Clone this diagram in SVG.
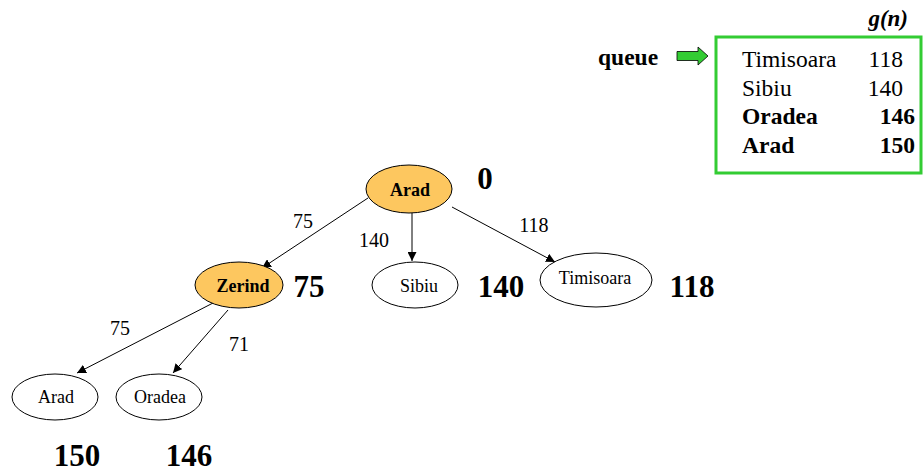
<svg xmlns="http://www.w3.org/2000/svg" width="924" height="472" viewBox="0 0 924 472" font-family="'Liberation Serif', 'DejaVu Serif', serif">
  <style>
    text { font-family: "Liberation Serif", "DejaVu Serif", serif; fill: #000; }
    .node { stroke: #000; stroke-width: 1; }
    .open { fill: #fff; }
    .expanded { fill: #FDC75F; }
    .name { font-size: 18px; text-anchor: middle; }
    .name-b { font-size: 18px; font-weight: bold; text-anchor: middle; }
    .cost { font-size: 20px; text-anchor: middle; }
    .g { font-size: 31px; font-weight: bold; text-anchor: middle; }
    .edge { stroke: #000; stroke-width: 1; fill: none; marker-end: url(#arrow); }
    .q { font-size: 23.5px; }
    .qb { font-size: 23.5px; font-weight: bold; }
  </style>
  <defs>
    <marker id="arrow" viewBox="0 0 10 10" refX="10" refY="5" markerWidth="9" markerHeight="9" markerUnits="userSpaceOnUse" orient="auto">
      <path d="M0,0 L10,5 L0,10 z" fill="#000"/>
    </marker>
  </defs>

  <!-- connectors -->
  <g id="connectors">
    <line class="edge" x1="368" y1="198" x2="262" y2="268"/>
    <line class="edge" x1="412" y1="213" x2="412" y2="261"/>
    <line class="edge" x1="452" y1="207" x2="555" y2="262"/>
    <line class="edge" x1="213" y1="303" x2="77" y2="373"/>
    <line class="edge" x1="228" y1="310" x2="173" y2="373"/>
    <text class="cost" x="303" y="228">75</text>
    <text class="cost" x="374" y="247">140</text>
    <text class="cost" x="534" y="232">118</text>
    <text class="cost" x="120" y="335">75</text>
    <text class="cost" x="239" y="351">71</text>
  </g>

  <!-- search tree nodes -->
  <g id="n-arad">
    <ellipse class="node expanded" cx="409" cy="189" rx="43" ry="24"/>
    <text class="name-b" x="410" y="196">Arad</text>
    <text class="g" x="485" y="189">0</text>
  </g>
  <g id="n-zerind">
    <ellipse class="node expanded" cx="239" cy="285" rx="44" ry="23"/>
    <text class="name-b" x="243" y="292">Zerind</text>
    <text class="g" x="309" y="297">75</text>
  </g>
  <g id="n-sibiu">
    <ellipse class="node open" cx="415" cy="285" rx="43" ry="23"/>
    <text class="name" x="419" y="292">Sibiu</text>
    <text class="g" x="501" y="297">140</text>
  </g>
  <g id="n-timisoara">
    <ellipse class="node open" cx="596" cy="280" rx="56" ry="27"/>
    <text class="name" x="595" y="284">Timisoara</text>
    <text class="g" x="692" y="297">118</text>
  </g>
  <g id="n-arad2">
    <ellipse class="node open" cx="55" cy="397" rx="43" ry="23"/>
    <text class="name" x="56" y="403">Arad</text>
    <text class="g" x="77" y="466">150</text>
  </g>
  <g id="n-oradea">
    <ellipse class="node open" cx="159" cy="397" rx="43" ry="23"/>
    <text class="name" x="160" y="403">Oradea</text>
    <text class="g" x="189" y="466">146</text>
  </g>

  <!-- priority queue -->
  <g id="queue">
    <text class="qb" x="598" y="65">queue</text>
    <path d="M677,51.5 L698,51.5 L698,47 L708,56 L698,65 L698,60.5 L677,60.5 z" fill="#33CC33" stroke="#000" stroke-width="0.8"/>
    <text x="908" y="26" text-anchor="end" style="font-size:23px;font-weight:bold;font-style:italic">g(n)</text>
    <rect x="716" y="37" width="205" height="136" fill="#fff" stroke="#33CC33" stroke-width="3"/>
    <text class="q" x="742" y="67">Timisoara</text>
    <text class="q" x="903" y="67" text-anchor="end">118</text>
    <text class="q" x="742" y="96">Sibiu</text>
    <text class="q" x="903" y="96" text-anchor="end">140</text>
    <text class="qb" x="742" y="124">Oradea</text>
    <text class="qb" x="915" y="124" text-anchor="end">146</text>
    <text class="qb" x="742" y="153">Arad</text>
    <text class="qb" x="915" y="153" text-anchor="end">150</text>
  </g>
</svg>
